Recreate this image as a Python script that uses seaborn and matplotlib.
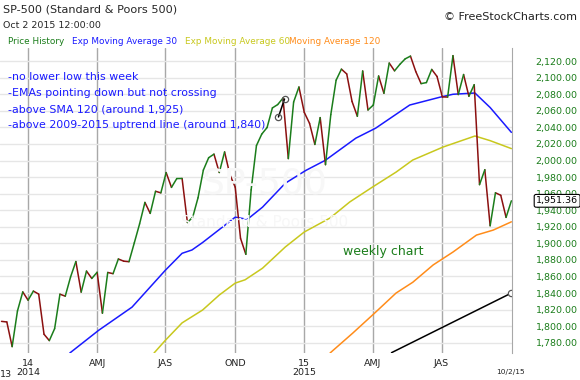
import numpy as np
import pandas as pd
import seaborn as sns
import matplotlib.pyplot as plt

# weekly closes, Nov 29 2013 .. Oct 2 2015
close = [1805.81, 1805.09, 1775.32, 1818.32, 1841.40,
         1831.37, 1842.37, 1838.70, 1790.29, 1782.59, 1797.02, 1838.63, 1836.25, 1859.45,
         1878.04, 1841.13, 1866.52, 1857.62, 1865.09, 1815.69, 1864.85, 1863.40, 1881.14,
         1878.48, 1877.86, 1900.53, 1923.57, 1949.44, 1936.16, 1962.87, 1960.96, 1985.44,
         1967.57, 1978.22, 1978.34, 1925.15, 1931.59, 1955.06, 1988.40, 2003.37, 2007.71,
         1985.54, 2010.40, 1982.85, 1967.90, 1906.13, 1886.76, 1964.58, 2018.05, 2031.92,
         2039.82, 2063.50, 2067.56, 2075.37, 2002.33, 2070.65, 2088.77,
         2058.20, 2044.81, 2019.42, 2051.82, 1994.99, 2055.47, 2096.99, 2110.30, 2104.50,
         2071.26, 2053.40, 2108.10, 2061.02, 2066.96, 2102.06, 2081.18, 2117.69, 2108.29,
         2116.10, 2122.73, 2126.06, 2107.39, 2092.83, 2094.11, 2109.99, 2101.49, 2076.78,
         2076.62, 2126.64, 2079.65, 2103.84, 2077.57, 2091.54, 1970.89, 1988.87, 1921.22,
         1961.05, 1958.03, 1931.34, 1951.36]
weeks = pd.date_range('2013-11-29', periods=len(close), freq='W-FRI')

# moving averages
ema30_dates = ['2014-02-27', '2014-04-06', '2014-05-20', '2014-07-03', '2014-07-25', '2014-08-07',
               '2014-08-21', '2014-10-03', '2014-10-19', '2014-11-08', '2014-12-08', '2015-01-04',
               '2015-01-30', '2015-03-11', '2015-04-06', '2015-05-21', '2015-06-30', '2015-07-17',
               '2015-08-15', '2015-09-04', '2015-10-02']
ema30_vals = [1767.6, 1795.0, 1823.0, 1867.6, 1888.0, 1892.0, 1901.0, 1931.6, 1929.0, 1943.7,
              1972.6, 1988.0, 2000.4, 2027.0, 2039.0, 2067.0, 2076.5, 2080.0, 2081.5, 2064.0, 2034.0]

ema60_dates = ['2014-06-18', '2014-07-03', '2014-07-25', '2014-08-21', '2014-09-12', '2014-10-03',
               '2014-10-16', '2014-11-08', '2014-12-08', '2015-01-02', '2015-02-05', '2015-03-03',
               '2015-04-02', '2015-05-03', '2015-05-25', '2015-07-04', '2015-08-15', '2015-09-04',
               '2015-10-02']
ema60_vals = [1767.6, 1783.0, 1804.0, 1819.5, 1837.6, 1852.0, 1856.0, 1870.0, 1895.6, 1913.7,
              1930.6, 1950.0, 1968.0, 1986.0, 2000.6, 2016.3, 2029.6, 2024.0, 2014.4]

ma120_dates = ['2015-02-05', '2015-03-07', '2015-04-05', '2015-05-03', '2015-05-25', '2015-06-21',
               '2015-07-17', '2015-08-17', '2015-09-08', '2015-10-02']
ma120_vals = [1767.6, 1791.7, 1816.0, 1840.0, 1853.0, 1874.0, 1889.5, 1910.0, 1916.0, 1926.0]

trend_dates = ['2015-04-27', '2015-10-02']
trend_vals = [1768.0, 1840.0]

mark_dates = ['2014-11-29', '2014-12-07']
mark_vals = [2052.6, 2074.3]

quarter_dates = ['2014-01-03', '2014-04-04', '2014-07-03', '2014-10-03',
                 '2015-01-02', '2015-04-02', '2015-07-02']
quarter_labels = ['14\n2014', 'AMJ', 'JAS', 'OND', '15\n2015', 'AMJ', 'JAS']
price_ticks = list(range(1780, 2121, 20))

notes = ['-no lower low this week',
         '-EMAs pointing down but not crossing',
         '-above SMA 120 (around 1,925)',
         '-above 2009-2015 uptrend line (around 1,840)']

GREEN = '#1b7d1b'
RED = '#8b1010'
BLUE = '#1a1aff'
YELLOW = '#c8c81e'
ORANGE = '#ff8c1a'

sns.set_style('white')
plt.rcParams['font.family'] = ['DejaVu Sans']

fig = plt.figure(figsize=(5.8, 3.8), dpi=100)
ax = fig.add_axes([0, 0.071, 0.883, 0.803])
YMIN, YMAX = 1767.6, 2136

# price line split in segments coloured by direction
rows = []
for i in range(len(close) - 1):
    d = 'up' if close[i + 1] > close[i] else 'down'
    rows.append((i, weeks[i], close[i], d))
    rows.append((i, weeks[i + 1], close[i + 1], d))
seg = pd.DataFrame(rows, columns=['seg', 'date', 'price', 'dir'])

sns.lineplot(data=pd.DataFrame({'date': pd.to_datetime(ma120_dates), 'v': ma120_vals}),
             x='date', y='v', color=ORANGE, lw=1.1, ax=ax)
sns.lineplot(data=pd.DataFrame({'date': pd.to_datetime(ema60_dates), 'v': ema60_vals}),
             x='date', y='v', color=YELLOW, lw=1.1, ax=ax)
sns.lineplot(data=pd.DataFrame({'date': pd.to_datetime(ema30_dates), 'v': ema30_vals}),
             x='date', y='v', color=BLUE, lw=1.1, ax=ax)
sns.lineplot(data=seg, x='date', y='price', hue='dir', units='seg', estimator=None,
             palette={'up': GREEN, 'down': RED}, legend=False, lw=1.1, ax=ax)

ax.plot(pd.to_datetime(trend_dates), trend_vals, color='black', lw=1.1)
ax.plot(pd.to_datetime(trend_dates[-1:]), trend_vals[-1:], 'o', ms=4.5, mfc='white',
        mec='#555555', mew=0.9)
ax.plot(pd.to_datetime(mark_dates), mark_vals, color='black', lw=1.1, marker='o', ms=4.5,
        mfc='none', mec='#555555', mew=0.9)

ax.set_xlim(pd.Timestamp('2013-11-27'), pd.Timestamp('2015-10-03'))
ax.set_ylim(YMIN, YMAX)

ax.set_yticks(price_ticks)
ax.set_yticklabels([f'{v:,.2f}' for v in price_ticks])
ax.yaxis.tick_right()
ax.tick_params(axis='y', length=0, pad=17, labelsize=6.8, labelcolor=GREEN)
ax.set_xticks(pd.to_datetime(quarter_dates))
ax.set_xticklabels(quarter_labels, fontsize=6.8, color='#222222', linespacing=1.05)
ax.tick_params(axis='x', length=0, pad=4)
ax.grid(axis='y', color='#e6e6e6', lw=1)
ax.grid(axis='x', color='#a8a8a8', lw=1)
ax.set_axisbelow(True)
ax.set_xlabel('')
ax.set_ylabel('')
for s in ['left', 'top', 'bottom']:
    ax.spines[s].set_visible(False)
ax.spines['right'].set_color('#a8a8a8')

# axis extras
ax.text(pd.Timestamp('2015-10-01'), -0.062, '10/2/15', transform=ax.get_xaxis_transform(),
        ha='center', va='center', fontsize=5.3, color='#222222')
ax.text(0.0, -0.069, '13', transform=ax.transAxes, ha='left', va='center', fontsize=6.8,
        color='#222222')
ax.text(1.0 + 45 / 512, (close[-1] - YMIN) / (YMAX - YMIN), f'{close[-1]:,.2f}',
        transform=ax.transAxes, ha='center', va='center', fontsize=6.8, color='black',
        bbox=dict(boxstyle='round,pad=0.2', fc='white', ec='black', lw=0.8))

# watermark
fig.text(265 / 580, 1 - 183 / 380, 'SP-500', fontsize=26, color='#f7f7f7', ha='center',
         va='center', zorder=0)
fig.text(265 / 580, 1 - 222 / 380, 'Standard & Poors 500', fontsize=11, color='#f7f7f7',
         ha='center', va='center', zorder=0)

# notes
for i, t in enumerate(notes):
    fig.text(8 / 580, 1 - (77 + 16 * i) / 380, t, fontsize=7.9, color=BLUE, va='center')
fig.text(343 / 580, 1 - 251 / 380, 'weekly chart', fontsize=9.0, color=GREEN, va='center')

# header
fig.text(3 / 580, 1 - 10 / 380, 'SP-500 (Standard & Poors 500)', fontsize=8.1, va='center')
fig.text(3 / 580, 1 - 25 / 380, 'Oct 2 2015 12:00:00', fontsize=6.8, va='center')
fig.text(577 / 580, 1 - 17 / 380, '\u00a9 FreeStockCharts.com', fontsize=8.0, ha='right',
         va='center', color='#222222')
legend_items = [('Price History', GREEN, 8), ('Exp Moving Average 30', BLUE, 72),
                ('Exp Moving Average 60', YELLOW, 185), ('Moving Average 120', ORANGE, 289)]
for t, c, x in legend_items:
    fig.text(x / 580, 1 - 42 / 380, t, fontsize=6.4, color=c, va='center')

fig.savefig('out.png', dpi=100)
